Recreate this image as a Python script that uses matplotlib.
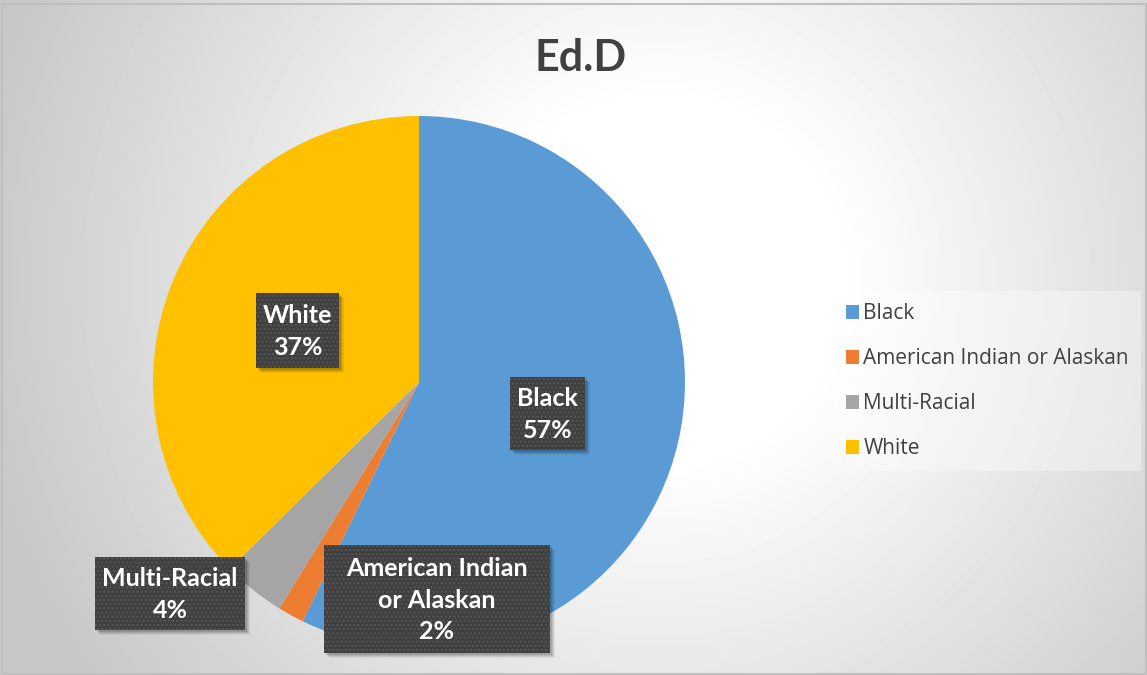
import numpy as np
import matplotlib
matplotlib.use("Agg")
import matplotlib.pyplot as plt
from matplotlib.patches import Rectangle

# data (share of each group, %)
groups = ["Black", "American Indian or Alaskan", "Multi-Racial", "White"]
shares = [57.2, 1.6, 3.8, 37.4]
pct_labels = ["57%", "2%", "4%", "37%"]
box_labels = ["Black", "American Indian\nor Alaskan", "Multi-Racial", "White"]
colors = ["#5B9BD5", "#ED7D31", "#A5A5A5", "#FFC000"]

W, H = 1147, 675
fig = plt.figure(figsize=(W / 100, H / 100), dpi=100)

# radial grey background
bg = fig.add_axes([0, 0, 1, 1], zorder=-10)
yy, xx = np.mgrid[0:H, 0:W]
d = np.hypot(xx - 660, yy - 280)
v = 1.0 - np.clip((d - 180) / 520, 0, 1) * 0.22
bg.imshow(v, cmap="gray", vmin=0, vmax=1, extent=[0, W, H, 0], aspect="auto")
bg.set_xlim(0, W)
bg.set_ylim(H, 0)
bg.axis("off")
bg.add_patch(Rectangle((1.5, 3.5), W - 3, H - 5, fill=False, ec="#bfbfbf", lw=1.5))

# pie: centre (419, 382) px, radius 266 px
cx, cy, r = 419, 382, 266
ax = fig.add_axes([(cx - r) / W, (H - cy - r) / H, 2 * r / W, 2 * r / H])
wedges, _ = ax.pie(shares, colors=colors, startangle=90, counterclock=False,
                   radius=1, wedgeprops=dict(linewidth=0))
ax.set_xlim(-1, 1)
ax.set_ylim(-1, 1)
ax.set_aspect("equal")
ax.axis("off")

fig.text(581 / W, 1 - 58 / H, "Ed.D", ha="center", va="center",
         fontsize=31, fontweight="bold", color="#404040", family="Lato")

# overlay in pixel coordinates for the data label boxes
ov = fig.add_axes([0, 0, 1, 1], zorder=10)
ov.set_xlim(0, W)
ov.set_ylim(H, 0)
ov.axis("off")
ov.patch.set_alpha(0)

# label boxes (x0, y0, x1, y1) in pixels
boxes = [(510, 377, 585, 450), (324, 545, 550, 653), (95, 557, 245, 630), (256, 293, 339, 368)]
for lab, pct, (x0, y0, x1, y1) in zip(box_labels, pct_labels, boxes):
    for k, a in [(6, 0.05), (5, 0.07), (4, 0.09), (3, 0.12)]:
        ov.add_patch(Rectangle((x0 + k - 1, y0 + k - 1), x1 - x0, y1 - y0,
                               fc="black", ec="none", alpha=a))
    ov.add_patch(Rectangle((x0, y0), x1 - x0, y1 - y0, fc="#404040",
                           ec="#575757", lw=0, hatch="...."))
    ov.text((x0 + x1) / 2, (y0 + y1) / 2 + 1, lab + "\n" + pct, ha="center",
            va="center", fontsize=18, fontweight="bold", color="white",
            family="Lato", linespacing=1.45)

leg = fig.legend(wedges, groups, loc="center left",
                 bbox_to_anchor=(833 / W, 1 - 381 / H),
                 frameon=True, fancybox=False, handlelength=0.65,
                 handleheight=0.65, handletextpad=0.2, labelspacing=1.15,
                 borderpad=0.6, borderaxespad=0, prop=dict(family="Open Sans", size=15))
leg.get_frame().set_facecolor("white")
leg.get_frame().set_alpha(0.35)
leg.get_frame().set_linewidth(0)
for txt in leg.get_texts():
    txt.set_color("#404040")

fig.savefig("out.png", dpi=100)
